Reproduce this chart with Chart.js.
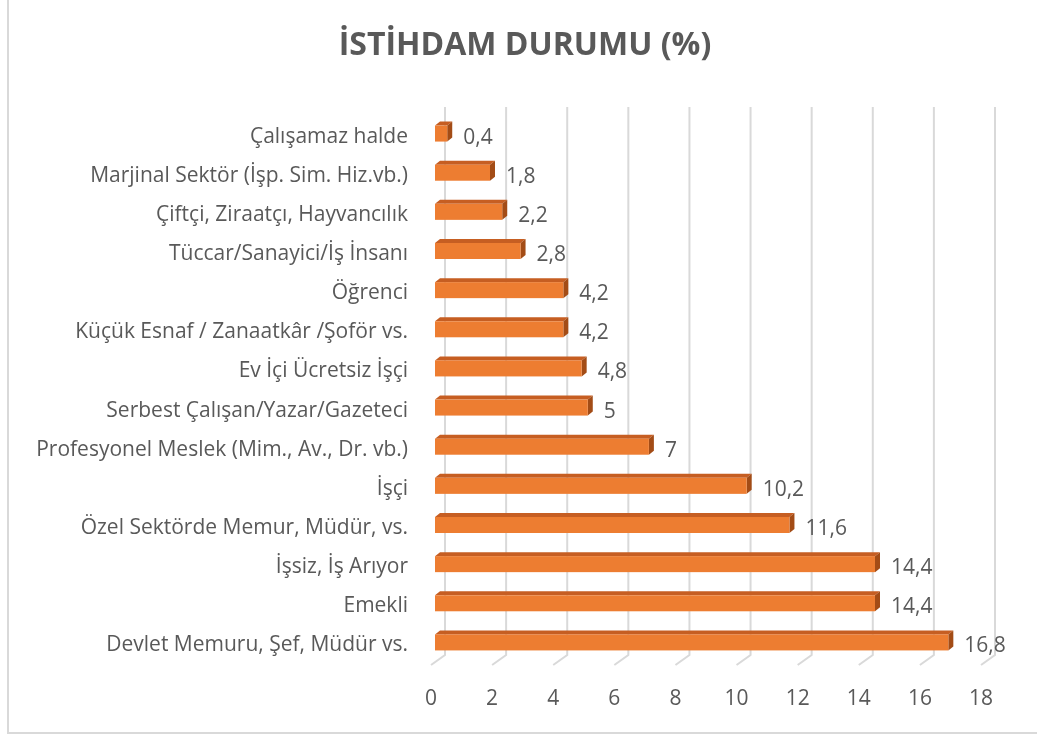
<!DOCTYPE html>
<html lang="tr">
<head>
<meta charset="utf-8">
<title>İstihdam Durumu</title>
<script src="https://cdn.jsdelivr.net/npm/chart.js@4.4.1/dist/chart.umd.min.js"></script>
<style>
    html, body { margin: 0; padding: 0; background: #ffffff; }
    #wrap { width: 1037px; height: 738px; position: relative; }
</style>
</head>
<body>
<div id="wrap"><canvas id="chart" width="1037" height="738"></canvas></div>
<script>
const CHART_TITLE = "İSTİHDAM DURUMU (%)";

const categories = [
    "Çalışamaz halde",
    "Marjinal Sektör (İşp. Sim. Hiz.vb.)",
    "Çiftçi, Ziraatçı, Hayvancılık",
    "Tüccar/Sanayici/İş İnsanı",
    "Öğrenci",
    "Küçük Esnaf / Zanaatkâr /Şoför vs.",
    "Ev İçi Ücretsiz İşçi",
    "Serbest Çalışan/Yazar/Gazeteci",
    "Profesyonel Meslek (Mim., Av., Dr. vb.)",
    "İşçi",
    "Özel Sektörde Memur, Müdür, vs.",
    "İşsiz, İş Arıyor",
    "Emekli",
    "Devlet Memuru, Şef, Müdür vs.",
];

const percentages = [0.4, 1.8, 2.2, 2.8, 4.2, 4.2, 4.8, 5, 7, 10.2, 11.6, 14.4, 14.4, 16.8];

const xTicks = [0, 2, 4, 6, 8, 10, 12, 14, 16, 18];

const TEXT_COLOR = "#595959";
const GRID_COLOR = "#d9d9d9";
const FONT_FAMILY = "'Open Sans', sans-serif";
const FONT_SIZE = 21;

// 3D look: back wall offset, and where the bar sits in depth
const WALL = { dx: 14, dy: -10 };
const BAR_FRONT = { dx: 4, dy: -3 };
const BAR_DEPTH = { dx: 5, dy: -4 };

const fmt = (v) => String(v).replace(".", ",");

const frame3d = {
    id: "frame3d",
    beforeDraw(chart) {
        const { ctx, chartArea, scales } = chart;
        ctx.save();
        ctx.fillStyle = "#ffffff";
        ctx.fillRect(0, 0, chart.width, chart.height);

        // outer border
        ctx.strokeStyle = GRID_COLOR;
        ctx.lineWidth = 2;
        ctx.strokeRect(8, -2, chart.width + 4, 735);

        // title
        ctx.fillStyle = TEXT_COLOR;
        ctx.font = "bold 32px 'Open Sans', sans-serif";
        ctx.textAlign = "center";
        ctx.textBaseline = "middle";
        ctx.fillText(CHART_TITLE, 525, 46);

        // back-wall gridlines with floor diagonals
        ctx.strokeStyle = GRID_COLOR;
        ctx.lineWidth = 2;
        xTicks.forEach((v) => {
            const fx = scales.x.getPixelForValue(v);
            ctx.beginPath();
            ctx.moveTo(fx + WALL.dx, chartArea.top + WALL.dy);
            ctx.lineTo(fx + WALL.dx, chartArea.bottom + WALL.dy);
            ctx.lineTo(fx, chartArea.bottom);
            ctx.stroke();
        });
        ctx.restore();
    },
    afterDatasetsDraw(chart) {
        const { ctx } = chart;
        const meta = chart.getDatasetMeta(0);
        ctx.save();
        meta.data.forEach((bar, i) => {
            const p = bar.getProps(["x", "y", "base", "height"], true);
            const x0 = p.base + BAR_FRONT.dx;
            const x1 = p.x + BAR_FRONT.dx;
            const yt = p.y - p.height / 2 + BAR_FRONT.dy;
            const yb = p.y + p.height / 2 + BAR_FRONT.dy;

            // top face
            ctx.fillStyle = "#c65e22";
            ctx.beginPath();
            ctx.moveTo(x0, yt);
            ctx.lineTo(x0 + BAR_DEPTH.dx, yt + BAR_DEPTH.dy);
            ctx.lineTo(x1 + BAR_DEPTH.dx, yt + BAR_DEPTH.dy);
            ctx.lineTo(x1, yt);
            ctx.closePath();
            ctx.fill();

            // side face
            ctx.fillStyle = "#a34c16";
            ctx.beginPath();
            ctx.moveTo(x1, yt);
            ctx.lineTo(x1 + BAR_DEPTH.dx, yt + BAR_DEPTH.dy);
            ctx.lineTo(x1 + BAR_DEPTH.dx, yb + BAR_DEPTH.dy);
            ctx.lineTo(x1, yb);
            ctx.closePath();
            ctx.fill();

            // front face
            ctx.fillStyle = "#ed7d31";
            ctx.fillRect(x0, yt, x1 - x0, yb - yt);

            // value label
            ctx.fillStyle = TEXT_COLOR;
            ctx.font = `${FONT_SIZE}px ${FONT_FAMILY}`;
            ctx.textAlign = "left";
            ctx.textBaseline = "middle";
            ctx.fillText(fmt(percentages[i]), p.x + 20, p.y + 1);
        });
        ctx.restore();
    },
};

new Chart(document.getElementById("chart"), {
    type: "bar",
    data: {
        labels: categories,
        datasets: [
            {
                data: percentages,
                backgroundColor: "rgba(0,0,0,0)",
                borderWidth: 0,
                barThickness: 16,
            },
        ],
    },
    options: {
        indexAxis: "y",
        responsive: false,
        animation: false,
        events: [],
        layout: { padding: { top: 117, right: 56, bottom: 0, left: 0 } },
        plugins: {
            legend: { display: false },
            tooltip: { enabled: false },
            title: { display: false },
        },
        scales: {
            x: {
                min: 0,
                max: 18,
                afterBuildTicks: (s) => { s.ticks = xTicks.map((v) => ({ value: v })); },
                afterFit: (s) => { s.height = 73; },
                grid: { display: false },
                border: { display: false },
                ticks: {
                    color: TEXT_COLOR,
                    font: { family: FONT_FAMILY, size: FONT_SIZE },
                    padding: 13,
                    maxRotation: 0,
                },
            },
            y: {
                afterFit: (s) => { s.width = 431; },
                grid: { display: false },
                border: { display: false },
                ticks: {
                    color: TEXT_COLOR,
                    font: { family: FONT_FAMILY, size: FONT_SIZE },
                    padding: 15,
                    autoSkip: false,
                },
            },
        },
    },
    plugins: [frame3d],
});
</script>
</body>
</html>
